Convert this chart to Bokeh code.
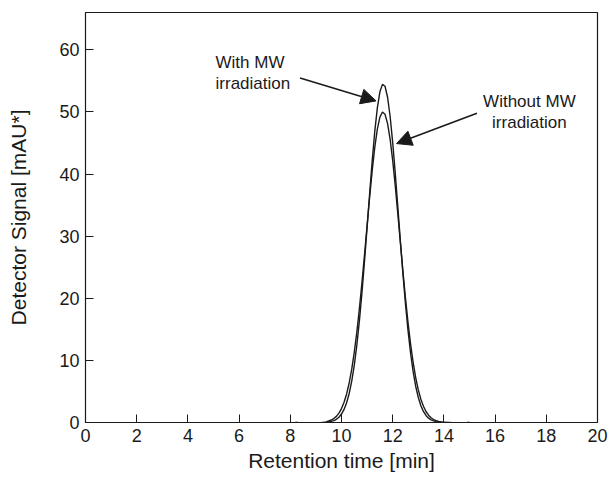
from bokeh.plotting import figure
from bokeh.models import Range1d, Label, Arrow, NormalHead, FixedTicker
from bokeh.embed import file_html
from bokeh.resources import INLINE

# Retention time [min]
time_min = [8.2, 8.6, 9.0, 9.4, 9.5, 9.6, 9.7, 9.8, 9.9, 10.0, 10.1, 10.2, 10.3, 10.4,
            10.5, 10.6, 10.7, 10.8, 10.9, 11.0, 11.1, 11.2, 11.3, 11.4, 11.5, 11.6,
            11.7, 11.8, 11.9, 12.0, 12.1, 12.2, 12.3, 12.4, 12.5, 12.6, 12.7, 12.8,
            12.9, 13.0, 13.1, 13.2, 13.3, 13.4, 13.5, 13.6, 13.7, 13.8, 13.9, 14.0,
            14.2, 14.6, 15.0]

# Detector signal [mAU*], with MW irradiation
with_mw = [0.0, -0.1, -0.15, -0.05, 0.08, 0.18, 0.31, 0.52, 0.85, 1.36, 2.11, 3.18, 4.67, 6.67,
           9.25, 12.49, 16.40, 20.93, 26.00, 31.41, 36.90, 42.16, 46.86, 50.64, 53.24, 54.43,
           54.13, 52.36, 49.26, 45.06, 40.10, 34.71, 29.22, 23.92, 19.05, 14.75, 11.11, 8.14,
           5.80, 4.02, 2.71, 1.78, 1.13, 0.70, 0.42, 0.25, 0.14, 0.08, 0.04, 0.02,
           -0.05, -0.12, 0.0]

# Detector signal [mAU*], without MW irradiation
without_mw = [0.0, -0.1, -0.15, 0.1, 0.25, 0.40, 0.64, 0.99, 1.51, 2.24, 3.25, 4.60, 6.36, 8.59,
              11.34, 14.60, 18.37, 22.56, 27.08, 31.73, 36.31, 40.58, 44.30, 47.22, 49.16, 49.98,
              49.62, 48.12, 45.57, 42.15, 38.07, 33.58, 28.93, 24.34, 20.00, 16.04, 12.58, 9.62,
              7.19, 5.25, 3.74, 2.61, 1.77, 1.18, 0.76, 0.48, 0.30, 0.18, 0.10, 0.06,
              0.01, -0.12, 0.0]

x_ticks = [0, 2, 4, 6, 8, 10, 12, 14, 16, 18, 20]
y_ticks = [0, 10, 20, 30, 40, 50, 60]

FONT = "Liberation Sans"
INK = "#1a1a1a"

p = figure(width=612, height=478, output_backend="svg", toolbar_location=None,
           x_range=Range1d(0, 20), y_range=Range1d(0, 66),
           min_border_left=85, min_border_right=15, min_border_top=12, min_border_bottom=56)

p.xgrid.visible = False
p.ygrid.visible = False
p.outline_line_color = INK
p.outline_line_width = 1.2
p.background_fill_color = "white"
p.border_fill_color = "white"

p.line(time_min, with_mw, line_color=INK, line_width=1.4)
p.line(time_min, without_mw, line_color=INK, line_width=1.4)

for ax, ticks in ((p.xaxis[0], x_ticks), (p.yaxis[0], y_ticks)):
    ax.ticker = FixedTicker(ticks=ticks)
    ax.minor_tick_line_color = None
    ax.major_tick_in = 8
    ax.major_tick_out = 0
    ax.major_tick_line_color = INK
    ax.axis_line_color = INK
    ax.major_label_text_font = FONT
    ax.major_label_text_font_size = "18px"
    ax.major_label_text_color = INK
    ax.axis_label_text_font = FONT
    ax.axis_label_text_font_size = "21px"
    ax.axis_label_text_font_style = "normal"
    ax.axis_label_text_color = INK

p.xaxis.axis_label = "Retention time [min]"
p.yaxis.axis_label = "Detector Signal [mAU*]"
p.xaxis.major_label_standoff = 6
p.yaxis.major_label_standoff = 6
p.xaxis.axis_label_standoff = 4
p.yaxis.axis_label_standoff = 26

# annotations
for txt, x, y, align in (("With MW", 5.08, 57.9, "left"), ("irradiation", 5.08, 54.5, "left"),
                         ("Without MW", 17.34, 51.7, "center"), ("irradiation", 17.34, 48.3, "center")):
    p.add_layout(Label(x=x, y=y, text=txt, text_font=FONT, text_font_size="17px",
                       text_color=INK, text_align=align, text_baseline="middle"))

p.add_layout(Arrow(x_start=8.38, y_start=55.46, x_end=11.35, y_end=51.77,
                   line_color=INK, line_width=1.6,
                   end=NormalHead(size=15, fill_color=INK, line_color=INK)))
p.add_layout(Arrow(x_start=15.29, y_start=49.8, x_end=12.15, y_end=44.9,
                   line_color=INK, line_width=1.6,
                   end=NormalHead(size=15, fill_color=INK, line_color=INK)))

open("out.html", "w").write(file_html(p, INLINE))
